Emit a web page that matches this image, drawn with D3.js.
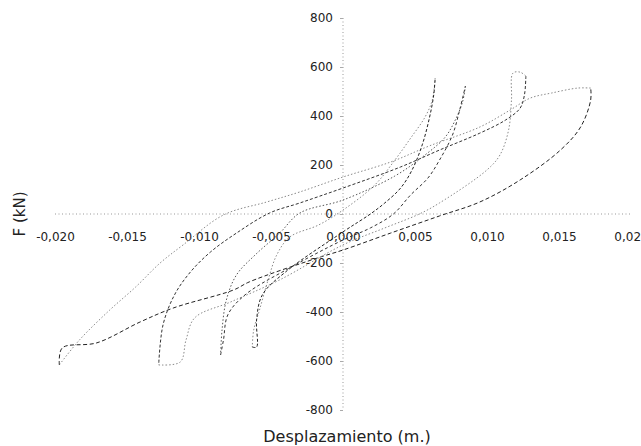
<!DOCTYPE html>
<html><head><meta charset="utf-8">
<script src="https://cdn.jsdelivr.net/npm/d3@7"></script>
<style>body{margin:0;background:#fff}svg{display:block}</style>
</head><body><svg id="c" width="641" height="446"></svg>
<script>
// ---- data (displacement m, force kN) ----
const xTicks = [-0.020,-0.015,-0.010,-0.005,0.000,0.005,0.010,0.015,0.020];
const yTicks = [-800,-600,-400,-200,0,200,400,600,800];
const xTitle = "Desplazamiento (m.)";
const yTitle = "F (kN)";

// cycle 1 (~ ±0.006 m)
const c1Lower = [[-0.0063,-543],[-0.0060,-543],[-0.0060,-432],[-0.0056,-330],[-0.0040,-237],[0,-73],[0.0019,0],[0.0029,45],[0.0040,106],[0.0048,180],[0.0055,282],[0.0060,392],[0.0063,486],[0.0064,555]];
const c1Upper = [[0.0064,555],[0.0062,465],[0.0057,396],[0.0047,310],[0.0036,220],[0.0022,118],[0,16],[-0.0017,-45],[-0.0037,-94],[-0.0046,-167],[-0.0052,-269],[-0.0058,-392],[-0.0062,-473],[-0.0063,-543]];
// cycle 2 (~ ±0.0085 m)
const c2Lower = [[-0.0085,-575],[-0.0083,-514],[-0.0080,-412],[-0.0068,-330],[-0.0037,-220],[0,-106],[0.0019,-57],[0.0035,0],[0.0047,78],[0.0059,147],[0.0067,220],[0.0076,322],[0.0081,424],[0.0085,522]];
const c2Upper = [[0.0085,522],[0.0083,457],[0.0078,384],[0.0071,314],[0.0057,241],[0.0036,155],[0,57],[-0.0030,4],[-0.0044,-78],[-0.0061,-167],[-0.0074,-249],[-0.0081,-351],[-0.0084,-473],[-0.0085,-575]];
// cycle 3 (~ ±0.0125 m)
const c3Lower = [[-0.0128,-616],[-0.0113,-604],[-0.0109,-514],[-0.0103,-424],[-0.0078,-359],[-0.0044,-269],[0,-126],[0.0029,-57],[0.0053,0],[0.0067,45],[0.0100,180],[0.0109,241],[0.0115,343],[0.0117,465],[0.0118,575],[0.0123,579],[0.0127,563]];
const c3Upper = [[0.0127,563],[0.0126,486],[0.0123,432],[0.0113,384],[0.0095,330],[0.0067,261],[0.0040,192],[0,106],[-0.0030,45],[-0.0051,4],[-0.0074,-78],[-0.0092,-155],[-0.0106,-237],[-0.0117,-330],[-0.0125,-453],[-0.0128,-616]];
// cycle 4 (~ +0.017 / -0.020 m)
const c4Lower = [[-0.0197,-616],[-0.0195,-547],[-0.0171,-526],[-0.0141,-441],[-0.0118,-384],[-0.0076,-310],[-0.0065,-277],[-0.0018,-180],[0,-147],[0.0033,-78],[0.0067,-8],[0.0095,49],[0.0123,139],[0.0151,261],[0.0165,355],[0.0172,465],[0.0172,514]];
const c4Upper = [[0.0172,514],[0.0163,514],[0.0145,494],[0.0130,473],[0.0116,424],[0.0095,355],[0.0060,278],[0.0033,212],[0,151],[-0.0030,90],[-0.0053,49],[-0.0083,-4],[-0.0111,-126],[-0.0127,-200],[-0.0144,-298],[-0.0162,-392],[-0.0183,-514],[-0.0197,-616]];

const series = [
  {pts:c4Upper, color:"#8a8a8a", dash:"1.5,2"},
  {pts:c4Lower, color:"#222", dash:"4,2.5"},
  {pts:c3Upper, color:"#333", dash:"3,2"},
  {pts:c3Lower, color:"#8a8a8a", dash:"1.5,2"},
  {pts:c2Upper, color:"#555", dash:"1.5,2"},
  {pts:c2Lower, color:"#333", dash:"3,2.5"},
  {pts:c1Upper, color:"#8a8a8a", dash:"1.5,2"},
  {pts:c1Lower, color:"#222", dash:"3,2"}
];

// ---- drawing ----
const svg = d3.select("#c");
const x = d3.scaleLinear().domain([-0.02,0.02]).range([55,631]);
const y = d3.scaleLinear().domain([-800,800]).range([410,18]);
const loc = d3.formatLocale({decimal:",",thousands:".",grouping:[3],currency:["","€"],minus:"-"});
const fx = loc.format(".3f"), fy = loc.format("d");
const font = "'DejaVu Sans', Verdana, sans-serif";

// axis lines (dotted)
svg.append("line").attr("x1",x(-0.02)).attr("x2",x(0.02)).attr("y1",y(0)).attr("y2",y(0))
  .attr("stroke","#999").attr("stroke-width",1).attr("stroke-dasharray","1,2.5");
svg.append("line").attr("x1",x(0)).attr("x2",x(0)).attr("y1",y(800)).attr("y2",y(-800))
  .attr("stroke","#999").attr("stroke-width",1).attr("stroke-dasharray","1,2.5");

const gx = svg.append("g").attr("transform",`translate(0,${y(0)})`)
  .call(d3.axisBottom(x).tickValues(xTicks).tickFormat(fx).tickSize(0).tickPadding(18));
gx.select(".domain").remove();
gx.selectAll("text").attr("font-family",font).attr("font-size",12).attr("fill","#222");

const gy = svg.append("g").attr("transform",`translate(${x(0)},0)`)
  .call(d3.axisLeft(y).tickValues(yTicks).tickFormat(fy).tickSize(3).tickPadding(7));
gy.select(".domain").remove();
gy.selectAll("line").attr("stroke","#aaa");
gy.selectAll("text").attr("font-family",font).attr("font-size",12).attr("fill","#222");

// curves
const line = d3.line().x(d=>x(d[0])).y(d=>y(d[1])).curve(d3.curveCatmullRom.alpha(0.5));
svg.append("g").selectAll("path").data(series).join("path")
  .attr("d",d=>line(d.pts)).attr("fill","none")
  .attr("stroke",d=>d.color).attr("stroke-width",1).attr("stroke-dasharray",d=>d.dash);

// titles
svg.append("text").attr("x",x(0)+4).attr("y",442).attr("text-anchor","middle")
  .attr("font-family",font).attr("font-size",16).attr("fill","#222").text(xTitle);
svg.append("text").attr("transform",`translate(25,${y(0)}) rotate(-90)`).attr("text-anchor","middle")
  .attr("font-family",font).attr("font-size",15).attr("fill","#222").text(yTitle);
</script></body></html>
